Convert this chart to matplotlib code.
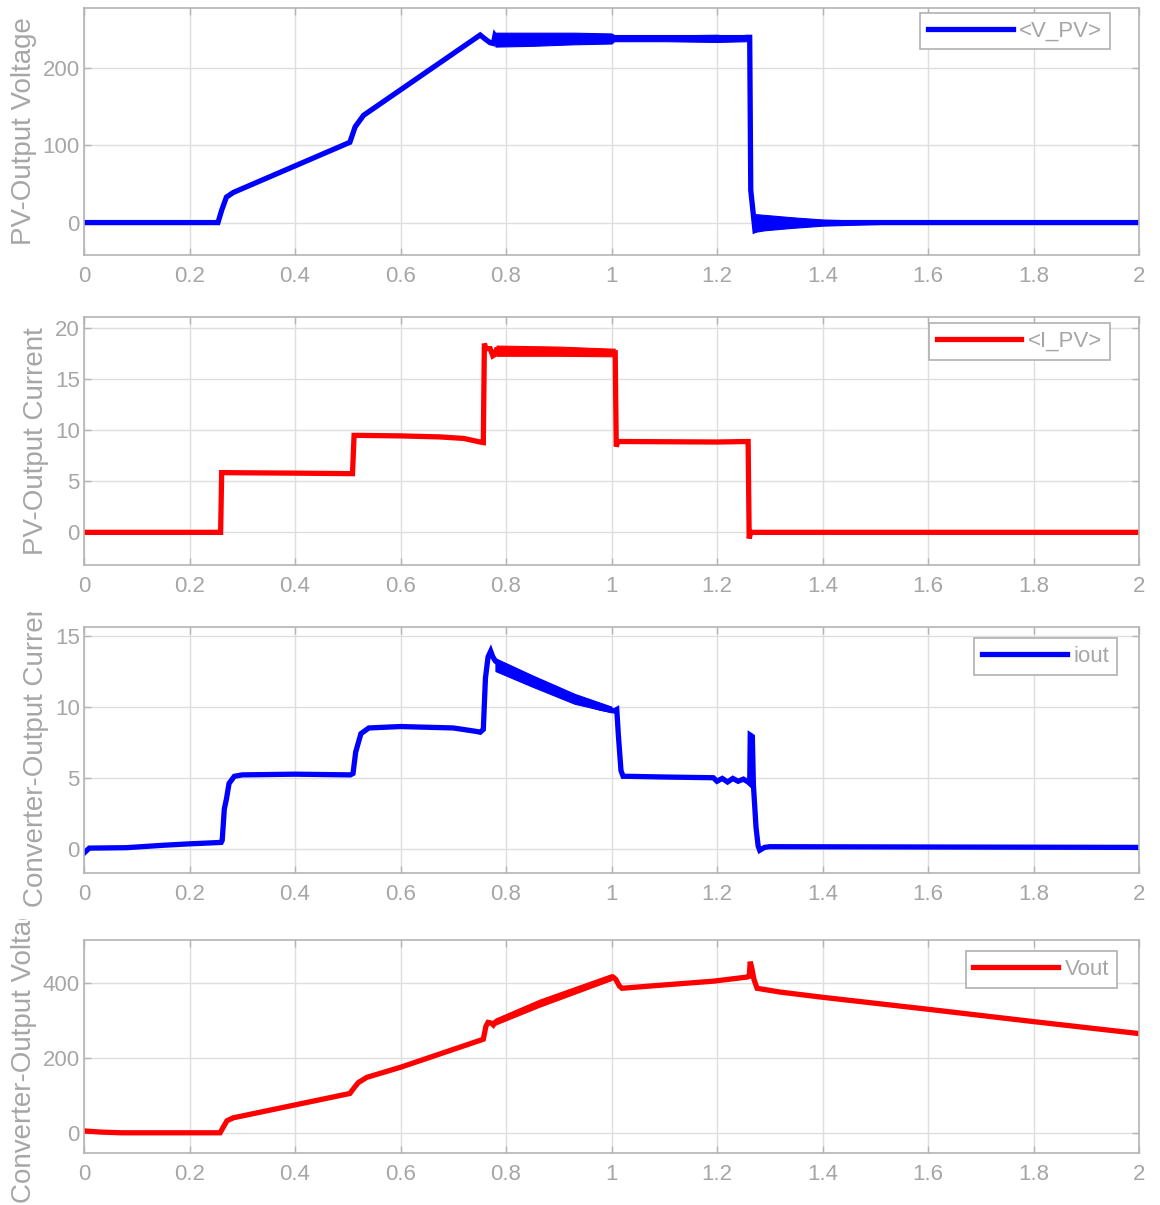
import numpy as np
import matplotlib
matplotlib.use('Agg')
import matplotlib.pyplot as plt
from matplotlib.ticker import FormatStrFormatter
from matplotlib.transforms import Bbox, TransformedBbox

plt.rcParams['font.family'] = ['Liberation Sans', 'DejaVu Sans']

GREY_TXT = '#a6a6a6'
GREY_AX = '#b4b4b4'
GREY_GRID = '#dedede'
LW = 3.8

# PV-Output Voltage (<V_PV>)
t_vpv = [0, 0.254, 0.261, 0.27, 0.283, 0.504, 0.514, 0.53, 0.751, 0.762, 0.770,
         0.776, 0.779, 0.783, 1.0, 1.2, 1.23, 1.257, 1.262, 1.264, 1.272, 1.30, 1.4, 1.6, 2.0]
v_pv = [0, 0, 16, 33, 39, 104, 124, 139, 243, 237, 233,
        232, 242, 238, 238, 240, 238, 240, 240, 42, -10, 0, 0, 0, 0]
# ripple envelopes of V_PV
t_vpv_rip = [0.78, 0.85, 0.93, 1.0, 1.005, 1.1, 1.2, 1.257]
lo_vpv_rip = [228, 229, 231, 232, 235, 235, 234, 235]
hi_vpv_rip = [246, 246, 246, 245, 243, 243, 243, 243]
t_vpv_rip2 = [1.272, 1.29, 1.34, 1.4, 1.5, 1.6]
lo_vpv_rip2 = [-12, -10, -7, -4, -2, 0]
hi_vpv_rip2 = [11, 10, 7, 4, 2, 0]

# PV-Output Current (<I_PV>)
t_ipv = [0, 0.259, 0.261, 0.40, 0.509, 0.512, 0.52, 0.6, 0.675, 0.72, 0.751, 0.757,
         0.759, 0.762, 0.770, 0.775, 0.778, 0.782, 1.0, 1.007, 1.009, 1.012, 1.02,
         1.2, 1.257, 1.259, 1.261, 1.264, 2.0]
i_pv = [0, 0, 5.85, 5.8, 5.75, 9.5, 9.5, 9.45, 9.35, 9.2, 8.85, 8.8,
        18.5, 18.0, 18.0, 17.3, 17.4, 17.9, 17.6, 17.6, 8.4, 8.9, 8.9,
        8.85, 8.9, 8.9, -0.6, 0, 0]
t_ipv_rip = [0.782, 0.9, 1.0, 1.006]
lo_ipv_rip = [17.3, 17.3, 17.25, 17.25]
hi_ipv_rip = [18.3, 18.2, 18.0, 18.0]

# Converter-Output Current (iout)
t_iout = [0, 0.01, 0.08, 0.15, 0.2, 0.26, 0.262, 0.266, 0.27, 0.275, 0.285, 0.3,
          0.4, 0.505, 0.51, 0.515, 0.525, 0.54, 0.6, 0.7, 0.745, 0.751, 0.757,
          0.761, 0.766, 0.771, 0.775, 0.78, 0.789, 0.851, 0.915, 0.978, 1.005,
          1.01, 1.013, 1.018, 1.022, 1.03, 1.1, 1.193, 1.2, 1.21, 1.22, 1.23,
          1.24, 1.25, 1.259, 1.262, 1.263, 1.267, 1.269, 1.274, 1.278, 1.281,
          1.29, 1.3, 2.0]
i_out = [-0.3, 0.05, 0.08, 0.25, 0.35, 0.45, 0.6, 2.8, 3.5, 4.6, 5.1, 5.2,
         5.25, 5.2, 5.3, 6.8, 8.1, 8.5, 8.6, 8.5, 8.25, 8.2, 8.4,
         12.0, 13.5, 13.9, 13.5, 13.2, 13.0, 11.8, 10.6, 9.9, 9.7,
         9.8, 8.0, 5.5, 5.1, 5.1, 5.05, 5.0, 4.75, 4.95, 4.7, 4.95,
         4.75, 4.9, 4.7, 4.6, 8.0, 7.9, 4.5, 1.5, 0.2, -0.1,
         0.1, 0.15, 0.1]
t_iout_rip = [0.78, 0.85, 0.93, 1.0]
lo_iout_rip = [12.5, 11.4, 10.2, 9.6]
hi_iout_rip = [13.4, 12.2, 10.9, 10.0]

# Converter-Output Voltage (Vout)
t_vout = [0, 0.03, 0.07, 0.258, 0.264, 0.271, 0.283, 0.504, 0.512, 0.52, 0.536,
          0.6, 0.751, 0.757, 0.762, 0.766, 0.772, 0.776, 0.78, 0.864, 1.003,
          1.008, 1.015, 1.02, 1.1, 1.193, 1.257, 1.261, 1.263, 1.266, 1.27,
          1.276, 1.319, 1.4, 1.6, 1.8, 2.0]
v_out = [5, 2, 0, 0, 15, 32, 40, 105, 120, 134, 148,
         175, 247, 250, 285, 295, 293, 288, 296, 346, 416,
         410, 392, 386, 395, 405, 416, 418, 457, 440, 410,
         386, 376, 362, 330, 297, 265]
t_vout_rip = [0.78, 0.864, 1.0]
lo_vout_rip = [289, 337, 408]
hi_vout_rip = [305, 356, 424]

x_ticks = [0, 0.2, 0.4, 0.6, 0.8, 1.0, 1.2, 1.4, 1.6, 1.8, 2.0]

W, H = 1160, 1205
fig = plt.figure(figsize=(W / 100, H / 100), dpi=100)


def px_axes(top, bottom, left=84, right=1139):
    return fig.add_axes([left / W, 1 - bottom / H, (right - left) / W, (bottom - top) / H])


panels = [
    dict(box=(8, 255), t=t_vpv, y=v_pv, col='#0000ff', name='<V_PV>',
         rips=[(t_vpv_rip, lo_vpv_rip, hi_vpv_rip), (t_vpv_rip2, lo_vpv_rip2, hi_vpv_rip2)],
         ylim=(-42, 278), yt=[0, 100, 200], label='PV-Output Voltage', lx=24,
         leg=(0.9725, 0.98), clip=None),
    dict(box=(317, 565), t=t_ipv, y=i_pv, col='#ff0000', name='<I_PV>',
         rips=[(t_ipv_rip, lo_ipv_rip, hi_ipv_rip)],
         ylim=(-3.2, 21.1), yt=[0, 5, 10, 15, 20], label='PV-Output Current', lx=36,
         leg=(0.9725, 0.976), clip=None),
    dict(box=(627, 873), t=t_iout, y=i_out, col='#0000ff', name='iout',
         rips=[(t_iout_rip, lo_iout_rip, hi_iout_rip)],
         ylim=(-1.7, 15.6), yt=[0, 5, 10, 15], label='Converter-Output Current', lx=36,
         leg=(0.979, 0.955), clip=612),
    dict(box=(940, 1153), t=t_vout, y=v_out, col='#ff0000', name='Vout',
         rips=[(t_vout_rip, lo_vout_rip, hi_vout_rip)],
         ylim=(-54, 515), yt=[0, 200, 400], label='Converter-Output Voltage', lx=24,
         leg=(0.979, 0.948), clip=919),
]

for p in panels:
    top, bottom = p['box']
    ax = px_axes(top, bottom)
    ax.plot(p['t'], p['y'], color=p['col'], lw=LW, label=p['name'], solid_joinstyle='miter')
    for tr, lo, hi in p['rips']:
        ax.fill_between(tr, lo, hi, color=p['col'], lw=0.8)
    ax.set_xlim(0, 2)
    ax.set_ylim(*p['ylim'])
    ax.set_xticks(x_ticks)
    ax.set_yticks(p['yt'])
    ax.xaxis.set_major_formatter(FormatStrFormatter('%g'))
    ax.grid(True, color=GREY_GRID, lw=1)
    ax.set_axisbelow(True)
    for s in ax.spines.values():
        s.set_color(GREY_AX)
        s.set_linewidth(1.2)
    ax.tick_params(axis='both', direction='in', length=5, width=1, color=GREY_AX,
                   labelcolor=GREY_TXT, labelsize=16, top=True, right=True)
    ax.tick_params(axis='x', pad=8)
    ax.tick_params(axis='y', pad=3)
    leg = ax.legend(loc='upper right', bbox_to_anchor=p['leg'], borderaxespad=0,
                    fontsize=16, handlelength=3.8, handletextpad=0.3, borderpad=0.35,
                    fancybox=False, framealpha=1, edgecolor='#b0b0b0')
    leg.get_frame().set_linewidth(1.2)
    for txt in leg.get_texts():
        txt.set_color(GREY_TXT)
    cy = 1 - (top + bottom) / 2 / H
    lab = fig.text(p['lx'] / W, cy, p['label'], rotation=90, ha='center', va='center',
                   fontsize=20, color=GREY_TXT)
    if p['clip'] is not None:
        lab.set_clip_box(TransformedBbox(Bbox([[0, 0], [0.1, 1 - p['clip'] / H]]),
                                         fig.transFigure))
        lab.set_clip_on(True)

fig.savefig('out.png', dpi=100)
